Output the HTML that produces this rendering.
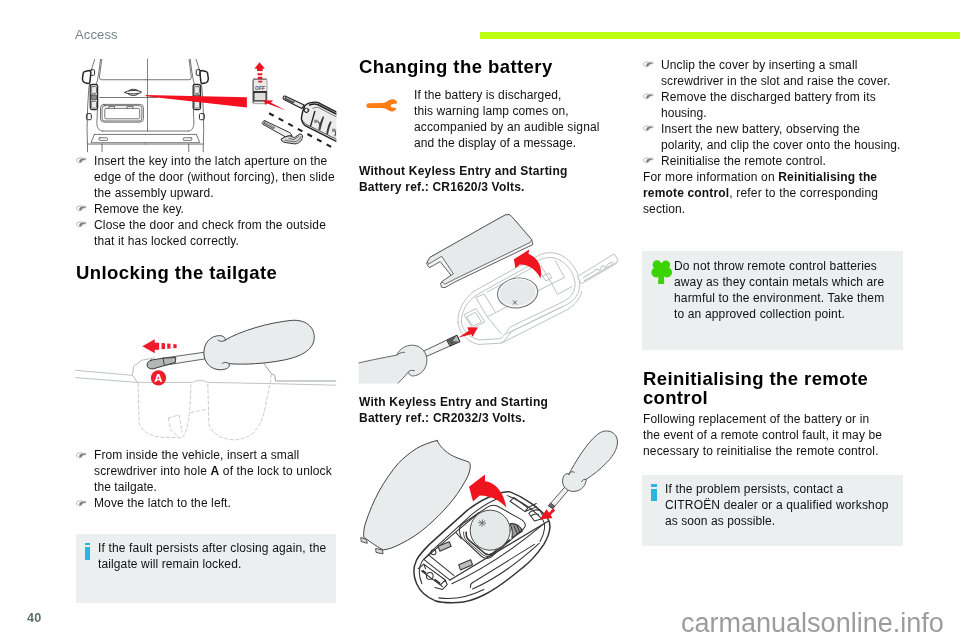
<!DOCTYPE html>
<html lang="en"><head><meta charset="utf-8"><title>Access - Changing the battery</title>
<style>
html,body{margin:0;padding:0;background:#fff}
body{width:960px;height:640px;position:relative;overflow:hidden;font-family:"Liberation Sans",sans-serif}
.t{position:absolute;white-space:pre;margin:0;padding:0;will-change:transform}
.t b{font-weight:700}
.box{position:absolute;background:#ecefef}
.bar{position:absolute;left:480px;top:32px;width:480px;height:6.6px;background:#bfff12}
svg{position:absolute;overflow:visible}
.ii{position:absolute;background:#2bb3e3}
</style></head><body>
<div class="bar"></div>
<div class="box" style="left:76px;top:533.8px;width:259.8px;height:68.8px"></div>
<div class="box" style="left:642.3px;top:251.2px;width:260.4px;height:98.7px"></div>
<div class="box" style="left:642.3px;top:475.1px;width:260.4px;height:71.1px"></div>

<div class="ii" style="left:84.5px;top:542.9px;width:5.5px;height:2.6px"></div>
<div class="ii" style="left:84.5px;top:547.4px;width:5.5px;height:12.5px"></div>
<div class="ii" style="left:651.3px;top:484.4px;width:5.5px;height:2.6px"></div>
<div class="ii" style="left:651.3px;top:488.9px;width:5.5px;height:12.5px"></div>
<svg style="left:0;top:0" width="960" height="640" viewBox="0 0 960 640">
<path fill="#fc7c15" d="M368.8 103.2 L381.5 103.1 C385.2 102.9 387.4 101.5 389.2 100.1 C391.5 98.6 395 98.8 396.6 101.2 C397.2 102.2 397.2 103.1 396.9 103.4 L392.6 104 C390.4 104.3 390.3 107.2 392.4 107.6 L396.2 107.9 C396.4 109.5 394 111.7 391.5 111.5 C389 111.3 387.4 109.4 385 108.5 L381.5 108.1 L368.8 108 C365.6 108 365.6 103.2 368.8 103.2 Z"/>
<g fill="#3bd303">
<circle cx="657" cy="264.7" r="4.35"/><circle cx="665.8" cy="264.8" r="4.35"/>
<circle cx="656.4" cy="272.4" r="5"/><circle cx="667" cy="272.4" r="5"/>
<rect x="656" y="263" width="11" height="12"/>
<path d="M658.5 274 L663.9 274 L664.2 284 L658.1 284 Z"/>
</g>
</svg>

<svg style="left:0;top:0" width="960" height="640" viewBox="0 0 960 640" fill="none" stroke-linecap="round" stroke-linejoin="round">
<!-- VAN: coords from crop (76,56) scale 6.529 -->
<g transform="translate(76,56) scale(0.15317)" stroke="#4a4a4a" stroke-width="0.75">
 <g id="vanhalf" style="vector-effect:non-scaling-stroke">
  <path vector-effect="non-scaling-stroke" d="M122 22 L100 92 M90 180 L84 205 L76 330 L72 480 L75 575 L75 625"/>
  <path vector-effect="non-scaling-stroke" d="M160 22 L150 100 L140 158 L133 186 M140 350 L136 440 C138 468 150 490 172 490"/>
  <path vector-effect="non-scaling-stroke" d="M168 22 L153 138 Q152 155 168 155 L453 155"/>
  <path vector-effect="non-scaling-stroke" d="M58 101 L86 95 Q97 96 97 110 L91 166 Q89 181 79 179 L57 174 Q43 168 42 148 L47 113 Q50 102 58 101 Z" stroke="#262626" stroke-width="1.5"/>
  <rect vector-effect="non-scaling-stroke" x="95" y="90" width="26" height="36" rx="5" stroke="#2e2e2e" stroke-width="1"/>
  <rect vector-effect="non-scaling-stroke" x="93" y="186" width="48" height="164" rx="12" stroke="#2a2a2a" stroke-width="1.3"/>
  <rect vector-effect="non-scaling-stroke" x="100" y="200" width="34" height="44" rx="5" fill="#e9e9e9"/>
  <rect vector-effect="non-scaling-stroke" x="98" y="254" width="38" height="32" rx="5" fill="#8a8a8a" stroke="#333"/>
  <rect vector-effect="non-scaling-stroke" x="100" y="296" width="34" height="44" rx="5" fill="#e9e9e9"/>
  <rect vector-effect="non-scaling-stroke" x="68" y="376" width="32" height="40" rx="7" stroke="#333" stroke-width="1"/>
  <path vector-effect="non-scaling-stroke" d="M120 512 L453 512 M120 512 L98 566 L453 566 M75 575 L453 575 M170 575 L170 625"/>
  <rect vector-effect="non-scaling-stroke" x="150" y="534" width="56" height="17" rx="5"/>
 </g>
 <use href="#vanhalf" transform="translate(906,0) scale(-1,1)"/>
 <path vector-effect="non-scaling-stroke" d="M172 490 L734 490"/>
 <path vector-effect="non-scaling-stroke" d="M467 20 L467 490" stroke="#555"/>
 <path vector-effect="non-scaling-stroke" d="M155 271 L530 271"/>
 <!-- handle -->
 <path vector-effect="non-scaling-stroke" d="M318 238 C330 222 410 220 428 236 C414 250 334 252 318 238 Z M340 246 C352 262 396 262 408 246 M345 226 C360 214 392 214 404 226" stroke="#333" stroke-width="1"/>
 <!-- plate -->
 <rect vector-effect="non-scaling-stroke" x="160" y="316" width="280" height="116" rx="22"/>
 <rect vector-effect="non-scaling-stroke" x="170" y="324" width="260" height="100" rx="18"/>
 <rect vector-effect="non-scaling-stroke" x="188" y="342" width="228" height="68" rx="8"/>
 <path vector-effect="non-scaling-stroke" d="M214 342 L214 330 L252 330 L252 342 M334 342 L334 330 L372 330 L372 342"/>
</g>
<!-- red wedge -->
<path d="M145.7 95.0 L246.9 97.2 L246.9 107.6 L146 96.2 Z" fill="#f5101f"/>
<!-- switch + arrows : crop (246,58) scale 11.43 -->
<g transform="translate(246,58) scale(0.08749)">
 <rect x="80" y="240" width="160" height="282" rx="14" fill="#ebebeb" stroke="#8a8a8a" stroke-width="0.8" vector-effect="non-scaling-stroke"/>
 <path d="M82 512 L82 252 Q82 242 94 242 L232 242" stroke="#555" stroke-width="0.9" fill="none" vector-effect="non-scaling-stroke"/>
 <rect x="90" y="388" width="140" height="102" fill="#dedede" stroke="#2e2e2e" stroke-width="1.2" vector-effect="non-scaling-stroke"/>
 <path d="M90 388 L230 388" stroke="#222" stroke-width="1.6" vector-effect="non-scaling-stroke"/>
 <text x="160" y="362" font-family="Liberation Sans, sans-serif" font-size="66" font-style="italic" font-weight="700" fill="#4a4a4a" text-anchor="middle" stroke="none" textLength="112" lengthAdjust="spacingAndGlyphs">OFF</text>
 <g fill="#f0101f">
  <path d="M155 48 L216 122 L190 122 L190 150 L126 150 L126 122 L96 122 Z"/>
  <path d="M130 174 L186 174 L186 196 L132 196 Z M134 214 L186 214 L186 240 L137 240 Z M140 260 L186 260 L186 281 L142 281 Z"/>
  <path d="M204 483 L312 487 L282 510 L456 601 L242 520 L222 537 Z"/>
 </g>
</g>
<!-- keys : crop (256,90) scale 10.32 -->
<clipPath id="c1"><rect x="240" y="50" width="96.4" height="101.5"/></clipPath>
<g clip-path="url(#c1)"><g transform="translate(256,90) scale(0.0969)">
 <path d="M135 240 L800 600" stroke="#222" stroke-width="2.1" stroke-dasharray="5.2 5.7" stroke-linecap="butt" vector-effect="non-scaling-stroke"/>
 <!-- fob blade -->
 <path d="M300 62 L497 156 L472 192 L288 98 C272 88 282 56 300 62 Z" fill="#e8e8e8" stroke="#222" stroke-width="1.1" vector-effect="non-scaling-stroke"/>
 <path d="M300 70 L400 118 L388 140 L292 92 Z" fill="#444"/>
 <path d="M318 84 L392 120" stroke="#ddd" stroke-width="0.8" stroke-dasharray="1 1" vector-effect="non-scaling-stroke"/>
 <!-- fob body (separate crop group inserted below) -->
 <!-- separate blade -->
 <path d="M92 318 L350 440 L372 470 L300 482 L68 352 C56 340 74 312 92 318 Z" fill="#ededed" stroke="#333" stroke-width="1" vector-effect="non-scaling-stroke"/>
 <path d="M84 326 L196 382 L184 404 L72 346 Z" fill="#666"/>
 <path d="M96 340 L186 388" stroke="#e5e5e5" stroke-width="0.8" stroke-dasharray="1 1" vector-effect="non-scaling-stroke"/>
 <path d="M262 506 C280 488 330 470 352 474 L398 492 L446 456 C470 448 486 466 480 488 C470 528 440 556 400 556 L300 542 C272 536 256 520 262 506 Z" fill="#d2d2d2" stroke="#333" stroke-width="1" vector-effect="non-scaling-stroke"/>
 <path d="M340 500 L392 512 L440 476 M300 520 L396 534 C430 534 452 510 462 482" stroke="#444" stroke-width="0.7" vector-effect="non-scaling-stroke"/>
</g>
<g transform="translate(296,94) scale(0.09054)">
 <path vector-effect="non-scaling-stroke" d="M95 135 C112 104 180 82 240 92 L520 236 L520 562 L100 348 C70 322 55 290 62 250 C68 215 78 170 95 135 Z" fill="#ececec" stroke="#1e1e1e" stroke-width="1.4"/>
 <path vector-effect="non-scaling-stroke" d="M150 122 C180 110 215 108 238 116 L520 260" stroke="#1e1e1e" stroke-width="1.5"/>
 <path vector-effect="non-scaling-stroke" d="M186 158 C205 148 232 144 250 150 L520 292" stroke="#444" stroke-width="0.7"/>
 <path vector-effect="non-scaling-stroke" d="M72 292 C82 315 98 328 118 338 L520 536" stroke="#333" stroke-width="0.8"/>
 <path vector-effect="non-scaling-stroke" d="M95 135 C80 160 84 200 112 206 C136 208 146 186 140 166" stroke="#222" stroke-width="0.9"/>
 <circle vector-effect="non-scaling-stroke" cx="115" cy="180" r="22" fill="#fff" stroke="#222" stroke-width="1"/>
 <path vector-effect="non-scaling-stroke" d="M208 192 L162 352" stroke="#222" stroke-width="1.4"/>
 <path d="M298 245 C270 290 258 340 250 395 L268 404 C282 350 294 300 312 254 Z" fill="#3c3c3c"/>
 <path d="M378 300 C352 340 342 390 334 440 L352 450 C364 400 376 352 394 310 Z" fill="#3c3c3c"/>
 <path vector-effect="non-scaling-stroke" d="M240 300 C262 320 266 350 254 378 M420 390 C440 410 440 440 430 462" stroke="#555" stroke-width="1.2"/>
 <rect x="200" y="284" width="36" height="34" fill="#8a8a8a"/>
 <rect x="398" y="384" width="40" height="34" fill="#8a8a8a"/>
</g>
</g>
</svg>

<svg style="left:0;top:0" width="960" height="640" viewBox="0 0 960 640" fill="none" stroke-linecap="round" stroke-linejoin="round">
<!-- lines: crop (70,300) scale 3.556 -->
<g transform="translate(70,300) scale(0.28121)">
 <path vector-effect="non-scaling-stroke" stroke="#b9bdbd" stroke-width="0.9" d="M20 250 L222 268 M20 276 L240 293 L436 293 C442 284 482 284 488 293 L700 297 L945 303"/>
 <path vector-effect="non-scaling-stroke" stroke="#b0b4b4" stroke-width="0.9" d="M240 293 L222 268 L226 236 L256 214 L300 206"/>
 <path vector-effect="non-scaling-stroke" stroke="#9da1a1" stroke-width="1" d="M690 226 L716 262 L728 268 L731 288 L945 288"/>
 <g stroke="#c3c6c6" stroke-width="0.9" stroke-dasharray="3.2 2.4">
  <path vector-effect="non-scaling-stroke" d="M242 296 L246 440 C256 470 290 486 330 488 L398 490 C420 470 428 400 430 300"/>
  <path vector-effect="non-scaling-stroke" d="M350 420 L388 408 L398 470 M350 420 L358 462 L385 486"/>
  <path vector-effect="non-scaling-stroke" d="M490 300 L494 440 C504 476 540 496 580 497 C640 498 676 460 690 400 L712 296 L716 262"/>
  <path vector-effect="non-scaling-stroke" d="M430 400 L488 388"/>
 </g>
</g>
<!-- screwdriver shaft/tip + arrow + A : crop (76,305) scale 4.571 -->
<g transform="translate(76,305) scale(0.21877)">
 <path vector-effect="non-scaling-stroke" d="M398 243 L600 214 L604 244 L402 276 Z" fill="#f4f5f5" stroke="#555" stroke-width="0.9"/>
 <path vector-effect="non-scaling-stroke" d="M450 237 L452 268" stroke="#555" stroke-width="0.8"/>
 <path vector-effect="non-scaling-stroke" d="M344 252 L398 243 L456 240 L454 262 L404 277 L352 292 C318 296 316 258 344 252 Z" fill="#b4b7b7" stroke="#3a3a3a" stroke-width="1"/>
 <path vector-effect="non-scaling-stroke" d="M398 243 L404 277" stroke="#3a3a3a" stroke-width="0.9"/>
 <g fill="#ee1c2a">
  <path d="M303 188 L360 156 L360 172 L380 172 L380 204 L360 204 L360 220 Z"/>
  <path d="M391 174 L407 175 L407 201 L391 202 Z M417 176 L432 177 L432 199 L417 200 Z M445 178 L460 180 L460 196 L445 198 Z"/>
  <circle cx="377" cy="333" r="35"/>
 </g>
 <text x="377" y="352" font-family="Liberation Sans, sans-serif" font-weight="700" font-size="52" fill="#fff" text-anchor="middle">A</text>
</g>
<!-- handle : crop (196,305) scale 4.571 -->
<g transform="translate(196,305) scale(0.21877)">
 <path vector-effect="non-scaling-stroke" fill="#e9ecec" stroke="#474747" stroke-width="1" d="M134 160 C200 120 330 80 440 70 C510 66 546 110 540 156 C534 206 480 236 400 252 C320 268 220 274 150 268 C160 282 140 296 112 296 C66 296 36 262 36 218 C36 174 66 140 108 140 C124 140 136 150 134 160 Z"/>
 <path vector-effect="non-scaling-stroke" stroke="#474747" stroke-width="1" d="M134 160 C126 168 108 168 100 160 M150 268 C140 260 126 260 120 268"/>
</g>
</svg>

<svg style="left:0;top:0" width="960" height="640" viewBox="0 0 960 640" fill="none" stroke-linecap="round" stroke-linejoin="round">
<!-- fob body light lines : crop (355,210) scale 3.556 -->
<g transform="translate(355,210) scale(0.28121)" stroke="#bcc3c3" stroke-width="1">
 <path vector-effect="non-scaling-stroke" fill="#fff" d="M366 400 C362 360 390 310 430 285 L655 160 C690 145 730 150 760 180 C795 215 808 260 792 298 C780 322 760 334 735 345 L560 430 C545 445 535 468 515 474 L440 478 C400 470 372 440 366 400 Z"/>
 <path vector-effect="non-scaling-stroke" d="M378 398 C376 362 400 322 436 300 L655 178 C690 162 722 168 748 192 C778 222 790 258 778 290 C768 310 750 322 728 332 L552 416 C540 432 530 452 512 458 L444 462 C408 456 382 430 378 398 Z"/>
 <path vector-effect="non-scaling-stroke" d="M520 474 L740 362 C775 345 800 320 806 290 M540 440 L720 352 L735 345"/>
 <!-- inner compartments -->
 <path vector-effect="non-scaling-stroke" d="M388 372 L430 350 L462 398 L420 420 Z M398 380 L428 364 L450 398 L420 412 Z M430 312 L470 380 L500 365 L460 300 Z M470 292 L640 200 L668 235 M500 365 L700 262 M470 380 L520 440 M660 196 L700 262 L745 240 L712 180 M668 235 L690 224 L700 242 L680 252 Z M700 262 L720 300 L772 272"/>
 <!-- blade -->
 <path vector-effect="non-scaling-stroke" fill="#fff" d="M792 236 L922 156 L934 176 L930 190 L806 262 Z"/>
 <path vector-effect="non-scaling-stroke" d="M812 240 L850 218 L858 210 L870 214 L880 198 L892 204 L902 190 L916 186 M815 252 L925 188" stroke="#b5bbbb"/>
</g>
<!-- battery -->
<g transform="rotate(-8 517.6 293)">
 <ellipse cx="517.6" cy="293" rx="20.2" ry="14.8" fill="#e6e9e9" stroke="#6f7474" stroke-width="1"/>
 <ellipse cx="517.6" cy="292.6" rx="18.8" ry="13.6" stroke="#fff" stroke-width="0.8"/>
</g>
<path d="M513.2 300.6 L516.6 304.4 M516.8 300.8 L513 304.2" stroke="#333" stroke-width="0.7"/>
<!-- cover plate (page coords) -->
<path d="M426.6 263.2 L430 257.3 L442.5 250.3 L495 220.6 L505.5 214.9 Q509.6 213.3 511.8 216.6 L531.8 239.8 L532.8 244.6 L455 281.9 L445 287.6 L441.4 287.2 L440.6 283.2 L451.1 275.3 L440.2 261.6 L429.7 267.5 Z" fill="#f3f5f5" stroke="#4c4c4c" stroke-width="0.9"/>
<path d="M427.7 261.3 L430 257.3 L442.5 250.3 L495 220.6 L505.5 214.9 Q509.6 213.3 511.8 216.6 L531.8 239.8 L530 242.5 L455 279 L445 284.2 L441.7 281.6 L453.4 273.8 L441.7 256.3 L428.6 264 Z" fill="#e7eaea" stroke="#4c4c4c" stroke-width="0.8"/>
<!-- red curved arrow : crop (455,205) scale 5.335 -->
<g transform="translate(455,205) scale(0.18744)" fill="#f0141f">
 <path d="M396 238 L314 290 L322 338 L346 318 C400 318 436 352 456 392 C470 330 440 278 392 262 Z"/>
</g>
<!-- screwdriver + arrow : crop (355,285) scale 5.647 -->
<clipPath id="c3"><rect x="358.6" y="300" width="200" height="83.4"/></clipPath>
<g clip-path="url(#c3)"><g transform="translate(355,285) scale(0.17709)">
 <path vector-effect="non-scaling-stroke" d="M386 374 L576 284 L592 320 L406 402 Z" fill="#f2f3f3" stroke="#4a4a4a" stroke-width="0.9"/>
 <path vector-effect="non-scaling-stroke" d="M520 310 L576 284 L592 320 L538 344 Z" fill="#b9bcbc" stroke="#2e2e2e" stroke-width="1"/>
 <path vector-effect="non-scaling-stroke" d="M522 312 L572 290 L550 318 L584 318 L540 342 Z" fill="#555" stroke="none"/>
 <path vector-effect="non-scaling-stroke" d="M-20 450 C60 430 160 410 236 396 C250 360 290 338 326 340 C376 342 408 384 406 428 C404 476 368 512 326 514 C316 514 306 506 300 492 C280 520 250 545 230 570 L-20 570 Z" fill="#e9ecec" stroke="#555" stroke-width="0.9"/>
 <path vector-effect="non-scaling-stroke" d="M236 396 C246 388 262 378 280 380 M300 492 C308 482 322 478 336 484" stroke="#555" stroke-width="0.9"/>
 <path d="M582 298 L642 258 L634 238 L694 240 L664 292 L656 278 Z" fill="#f0141f"/>
</g></g>
</svg>

<svg style="left:0;top:0" width="960" height="640" viewBox="0 0 960 640" fill="none" stroke-linecap="round" stroke-linejoin="round">
<!-- fob : crop (405,490) scale 5.331 -->
<g transform="translate(405,490) scale(0.18758)" stroke="#343434" stroke-width="1.05">
 <path vector-effect="non-scaling-stroke" fill="#fff" stroke-width="1.5" d="M560 10 C640 40 720 100 760 150 C780 180 775 230 740 290 C700 350 660 390 620 420 C560 470 480 530 420 560 C370 585 320 600 280 600 C230 602 190 600 160 590 C110 570 80 540 62 500 C42 455 44 410 62 372 C80 340 100 320 130 290 L330 110 C380 70 430 42 480 25 C510 14 540 6 560 10 Z"/>
 <path vector-effect="non-scaling-stroke" d="M545 30 C620 60 690 110 735 160 C750 180 748 225 720 275 M90 500 C70 450 72 410 92 378 L150 318 L350 135 C400 95 450 62 500 44"/>
 <path vector-effect="non-scaling-stroke" stroke-width="1.3" d="M240 480 L765 165"/>
 <path vector-effect="non-scaling-stroke" d="M250 500 C380 440 560 330 735 185"/>
 <path vector-effect="non-scaling-stroke" d="M350 520 C345 505 355 495 370 488 L690 290 M360 528 C470 480 600 390 715 285 M180 575 C260 585 340 570 420 530"/>
 <path vector-effect="non-scaling-stroke" d="M100 370 L270 225 L395 120 M100 370 L240 480 M130 350 L260 455 M270 225 L300 260"/>
 <!-- battery holder moved -->
 <path vector-effect="non-scaling-stroke" fill="#9a9a9a" d="M560 180 C590 175 620 195 625 220 L570 255 C575 225 570 200 560 180 Z"/>
 <path vector-effect="non-scaling-stroke" d="M580 190 L600 235 M595 185 L612 225"/>
 <!-- contacts -->
 <path vector-effect="non-scaling-stroke" fill="#bdbdbd" d="M176 300 L236 276 L246 300 L186 326 Z M286 398 L350 372 L360 398 L296 426 Z"/>
 <circle vector-effect="non-scaling-stroke" cx="152" cy="332" r="13"/>
 <!-- ring area -->
 <path vector-effect="non-scaling-stroke" d="M70 420 L100 395 L215 480 L190 505 M88 432 L200 515 M100 395 L110 420 M215 480 L225 505 L200 530 L160 520"/>
 <circle vector-effect="non-scaling-stroke" cx="132" cy="458" r="18"/>
 <path vector-effect="non-scaling-stroke" d="M95 430 L110 442 M160 478 L185 496" stroke-width="1.6"/>
 <!-- top latch -->
 <path vector-effect="non-scaling-stroke" d="M580 40 L655 95 L700 72 M580 40 L560 60 L640 115 L700 90 M655 95 L640 115 M660 125 C670 110 700 100 720 110 L740 150 L690 165 Z M672 140 C680 128 700 125 712 132"/>
</g>
<!-- battery -->
<g transform="translate(420,480) scale(0.20305)" stroke="#343434">
 <path vector-effect="non-scaling-stroke" stroke-width="1.05" d="M195 250 C190 235 200 222 215 212 L330 135 C345 125 365 122 380 128 L500 195 C520 208 525 225 510 240 L350 380 C335 390 320 388 305 378 L210 290 C198 280 195 265 195 250 Z"/>
 <path vector-effect="non-scaling-stroke" stroke-width="1.6" d="M228 258 C226 275 232 290 245 300 L320 362 C332 370 345 370 356 362 L440 296"/>
 <path vector-effect="non-scaling-stroke" stroke-width="0.9" d="M215 256 C212 272 220 292 234 304 L312 370 C328 380 344 378 356 370"/>
</g>
<circle cx="490.2" cy="530.2" r="20" fill="#e6e9e9" stroke="#4a4a4a" stroke-width="1"/>
<path d="M478.6 522.6 L485.6 523.2 M482.6 519.8 L481.8 526.4 M479.4 520.6 L484.8 525.4 M485 520.8 L479.4 525.4" stroke="#6a6a6a" stroke-width="0.9"/>
<!-- cover shell : crop (355,430) scale 4.571 -->
<g transform="translate(355,430) scale(0.21877)">
 <path vector-effect="non-scaling-stroke" d="M28 492 L52 500 L56 518 L30 510 Z M96 542 L126 548 L128 566 L98 560 Z" fill="#d6d9d9" stroke="#444" stroke-width="0.9"/>
 <path vector-effect="non-scaling-stroke" fill="#e9ecec" stroke="#444" stroke-width="1" d="M375 48 C385 70 410 100 450 120 C480 134 505 140 520 146 C535 160 525 200 500 240 C480 275 460 305 430 340 C400 375 365 410 330 440 C290 475 250 500 210 520 C180 536 150 546 130 548 C110 540 75 515 40 490 C38 470 42 440 50 420 C65 375 85 325 110 280 C135 235 165 190 200 150 C225 125 250 105 280 85 C310 68 345 55 375 48 Z"/>
</g>
<!-- arrows + screwdriver : crop (455,425) scale 5.335 -->
<g transform="translate(455,425) scale(0.18744)">
 <path d="M75 330 L160 264 L160 300 C215 305 262 360 274 442 C240 400 190 378 132 376 L96 408 Z" fill="#f0141f"/>
 <path vector-effect="non-scaling-stroke" d="M588 332 L606 346 L522 446 L500 432 Z" fill="#f2f3f3" stroke="#4a4a4a" stroke-width="0.9"/>
 <path vector-effect="non-scaling-stroke" d="M512 418 L532 432 L522 446 L500 432 Z" fill="#666" stroke="#333" stroke-width="0.7"/>
 <path vector-effect="non-scaling-stroke" fill="#e9ecec" stroke="#555" stroke-width="1" d="M608 262 C640 200 700 100 760 50 C800 18 850 30 864 70 C876 110 850 160 810 200 C775 236 735 268 700 290 C700 320 676 350 640 354 C600 358 572 330 574 298 C576 268 592 252 608 262 Z"/>
 <path vector-effect="non-scaling-stroke" stroke="#555" stroke-width="1" d="M608 262 C612 250 626 246 636 252 M700 290 C690 286 680 292 676 302"/>
 <path d="M524 444 L502 468 L488 450 L452 504 L520 496 L510 480 L534 456 Z" fill="#f0141f"/>
</g>
</svg>

<svg width="0" height="0" style="left:0;top:0"><defs><g id="hand"><path d="M0.5 3.1 C0.5 1.7 1.7 1.1 3.4 1.1 L5.2 0.7 L5.7 1.3 L9.6 1.3 C10.3 1.3 10.3 2.9 9.6 2.9 L6.6 2.9 C6.6 4.3 5.4 5.7 3.6 5.7 C1.8 5.7 0.5 4.6 0.5 3.1 Z" fill="#fff" stroke="#8e8e8e" stroke-width="0.6"/><path d="M3.9 2.5 L6.2 1.6 L9.6 1.7 L9.6 2.6 L6.4 3 C6.3 4.2 5.4 5.3 4 5.4 C3.1 5.1 3 4.3 3.4 3.5 Z" fill="#7a7a7a"/></g>
</defs></svg>
<svg style="left:76.2px;top:157.0px" width="11" height="7" viewBox="0 0 11 7"><use href="#hand"/></svg>
<svg style="left:76.2px;top:205.0px" width="11" height="7" viewBox="0 0 11 7"><use href="#hand"/></svg>
<svg style="left:76.2px;top:221.0px" width="11" height="7" viewBox="0 0 11 7"><use href="#hand"/></svg>
<svg style="left:76.2px;top:451.5px" width="11" height="7" viewBox="0 0 11 7"><use href="#hand"/></svg>
<svg style="left:76.2px;top:499.5px" width="11" height="7" viewBox="0 0 11 7"><use href="#hand"/></svg>
<svg style="left:642.8px;top:60.8px" width="11" height="7" viewBox="0 0 11 7"><use href="#hand"/></svg>
<svg style="left:642.8px;top:92.9px" width="11" height="7" viewBox="0 0 11 7"><use href="#hand"/></svg>
<svg style="left:642.8px;top:125.0px" width="11" height="7" viewBox="0 0 11 7"><use href="#hand"/></svg>
<svg style="left:642.8px;top:157.1px" width="11" height="7" viewBox="0 0 11 7"><use href="#hand"/></svg>
<div class="t" style="left:75.4px;top:26.97px;font-size:13.1px;line-height:16.38px;font-weight:400;color:#768686;letter-spacing:0.083px">Access</div>
<div class="t" style="left:26.9px;top:610.66px;font-size:12.6px;line-height:15.75px;font-weight:700;color:#5c6f6f;letter-spacing:0.192px">40</div>
<div class="t" style="left:680.6px;top:606.67px;font-size:27px;line-height:33.75px;font-weight:400;color:#9c9c9c;letter-spacing:0.006px">carmanualsonline.info</div>
<div class="t" style="left:93.9px;top:153.94px;font-size:12.0px;line-height:15.0px;font-weight:400;color:#111;letter-spacing:0.117px">Insert the key into the latch aperture on the</div>
<div class="t" style="left:93.6px;top:169.94px;font-size:12.0px;line-height:15.0px;font-weight:400;color:#111;letter-spacing:0.143px">edge of the door (without forcing), then slide</div>
<div class="t" style="left:93.6px;top:185.94px;font-size:12.0px;line-height:15.0px;font-weight:400;color:#111;letter-spacing:0.153px">the assembly upward.</div>
<div class="t" style="left:93.9px;top:201.94px;font-size:12.0px;line-height:15.0px;font-weight:400;color:#111;letter-spacing:0.056px">Remove the key.</div>
<div class="t" style="left:93.9px;top:217.94px;font-size:12.0px;line-height:15.0px;font-weight:400;color:#111;letter-spacing:0.159px">Close the door and check from the outside</div>
<div class="t" style="left:93.6px;top:233.94px;font-size:12.0px;line-height:15.0px;font-weight:400;color:#111;letter-spacing:0.135px">that it has locked correctly.</div>
<div class="t" style="left:76.2px;top:260.93px;font-size:18.5px;line-height:23.12px;font-weight:700;color:#000;letter-spacing:0.413px">Unlocking the tailgate</div>
<div class="t" style="left:93.9px;top:448.44px;font-size:12.0px;line-height:15.0px;font-weight:400;color:#111;letter-spacing:0.117px">From inside the vehicle, insert a small</div>
<div class="t" style="left:93.6px;top:464.44px;font-size:12.0px;line-height:15.0px;font-weight:400;color:#111;letter-spacing:0.143px">screwdriver into hole <b>A</b> of the lock to unlock</div>
<div class="t" style="left:93.6px;top:480.44px;font-size:12.0px;line-height:15.0px;font-weight:400;color:#111;letter-spacing:0.073px">the tailgate.</div>
<div class="t" style="left:93.9px;top:496.44px;font-size:12.0px;line-height:15.0px;font-weight:400;color:#111;letter-spacing:0.108px">Move the latch to the left.</div>
<div class="t" style="left:98.1px;top:540.84px;font-size:12.0px;line-height:15.0px;font-weight:400;color:#111;letter-spacing:0.151px">If the fault persists after closing again, the</div>
<div class="t" style="left:98.1px;top:556.84px;font-size:12.0px;line-height:15.0px;font-weight:400;color:#111;letter-spacing:0.119px">tailgate will remain locked.</div>
<div class="t" style="left:359.3px;top:55.13px;font-size:18.5px;line-height:23.12px;font-weight:700;color:#000;letter-spacing:0.434px">Changing the battery</div>
<div class="t" style="left:414.1px;top:87.54px;font-size:12.0px;line-height:15.0px;font-weight:400;color:#111;letter-spacing:0.115px">If the battery is discharged,</div>
<div class="t" style="left:414.1px;top:103.54px;font-size:12.0px;line-height:15.0px;font-weight:400;color:#111;letter-spacing:0.097px">this warning lamp comes on,</div>
<div class="t" style="left:414.1px;top:119.54px;font-size:12.0px;line-height:15.0px;font-weight:400;color:#111;letter-spacing:0.15px">accompanied by an audible signal</div>
<div class="t" style="left:414.1px;top:135.54px;font-size:12.0px;line-height:15.0px;font-weight:400;color:#111;letter-spacing:0.099px">and the display of a message.</div>
<div class="t" style="left:359.3px;top:163.94px;font-size:12px;line-height:15.0px;font-weight:700;color:#111;letter-spacing:0.235px">Without Keyless Entry and Starting</div>
<div class="t" style="left:359.3px;top:179.94px;font-size:12px;line-height:15.0px;font-weight:700;color:#111;letter-spacing:0.198px">Battery ref.: CR1620/3 Volts.</div>
<div class="t" style="left:359.3px;top:395.44px;font-size:12px;line-height:15.0px;font-weight:700;color:#111;letter-spacing:0.228px">With Keyless Entry and Starting</div>
<div class="t" style="left:359.3px;top:411.44px;font-size:12px;line-height:15.0px;font-weight:700;color:#111;letter-spacing:0.23px">Battery ref.: CR2032/3 Volts.</div>
<div class="t" style="left:661.2px;top:57.74px;font-size:12.0px;line-height:15.0px;font-weight:400;color:#111;letter-spacing:0.119px">Unclip the cover by inserting a small</div>
<div class="t" style="left:660.9px;top:73.74px;font-size:12.0px;line-height:15.0px;font-weight:400;color:#111;letter-spacing:0.12px">screwdriver in the slot and raise the cover.</div>
<div class="t" style="left:661.2px;top:89.84px;font-size:12.0px;line-height:15.0px;font-weight:400;color:#111;letter-spacing:0.141px">Remove the discharged battery from its</div>
<div class="t" style="left:661.2px;top:105.84px;font-size:12.0px;line-height:15.0px;font-weight:400;color:#111;letter-spacing:0.016px">housing.</div>
<div class="t" style="left:661.4px;top:121.94px;font-size:12.0px;line-height:15.0px;font-weight:400;color:#111;letter-spacing:0.159px">Insert the new battery, observing the</div>
<div class="t" style="left:661.2px;top:137.94px;font-size:12.0px;line-height:15.0px;font-weight:400;color:#111;letter-spacing:0.121px">polarity, and clip the cover onto the housing.</div>
<div class="t" style="left:661.2px;top:154.04px;font-size:12.0px;line-height:15.0px;font-weight:400;color:#111;letter-spacing:0.112px">Reinitialise the remote control.</div>
<div class="t" style="left:642.6px;top:170.24px;font-size:12.0px;line-height:15.0px;font-weight:400;color:#111;letter-spacing:0.162px">For more information on <b>Reinitialising the</b></div>
<div class="t" style="left:642.6px;top:186.34px;font-size:12.0px;line-height:15.0px;font-weight:400;color:#111;letter-spacing:0.166px"><b>remote control</b>, refer to the corresponding</div>
<div class="t" style="left:642.6px;top:202.44px;font-size:12.0px;line-height:15.0px;font-weight:400;color:#111;letter-spacing:0.105px">section.</div>
<div class="t" style="left:674.4px;top:259.04px;font-size:12.0px;line-height:15.0px;font-weight:400;color:#111;letter-spacing:0.15px">Do not throw remote control batteries</div>
<div class="t" style="left:674.4px;top:275.04px;font-size:12.0px;line-height:15.0px;font-weight:400;color:#111;letter-spacing:0.131px">away as they contain metals which are</div>
<div class="t" style="left:674.4px;top:291.04px;font-size:12.0px;line-height:15.0px;font-weight:400;color:#111;letter-spacing:0.155px">harmful to the environment. Take them</div>
<div class="t" style="left:674.4px;top:307.04px;font-size:12.0px;line-height:15.0px;font-weight:400;color:#111;letter-spacing:0.149px">to an approved collection point.</div>
<div class="t" style="left:642.6px;top:366.83px;font-size:18.5px;line-height:23.12px;font-weight:700;color:#000;letter-spacing:0.414px">Reinitialising the remote</div>
<div class="t" style="left:642.6px;top:385.93px;font-size:18.5px;line-height:23.12px;font-weight:700;color:#000;letter-spacing:0.328px">control</div>
<div class="t" style="left:642.6px;top:411.84px;font-size:12.0px;line-height:15.0px;font-weight:400;color:#111;letter-spacing:0.149px">Following replacement of the battery or in</div>
<div class="t" style="left:642.6px;top:428.04px;font-size:12.0px;line-height:15.0px;font-weight:400;color:#111;letter-spacing:0.106px">the event of a remote control fault, it may be</div>
<div class="t" style="left:642.6px;top:444.24px;font-size:12.0px;line-height:15.0px;font-weight:400;color:#111;letter-spacing:0.169px">necessary to reinitialise the remote control.</div>
<div class="t" style="left:665.4px;top:482.14px;font-size:12.0px;line-height:15.0px;font-weight:400;color:#111;letter-spacing:0.143px">If the problem persists, contact a</div>
<div class="t" style="left:665.4px;top:498.24px;font-size:12.0px;line-height:15.0px;font-weight:400;color:#111;letter-spacing:0.162px">CITROËN dealer or a qualified workshop</div>
<div class="t" style="left:665.4px;top:514.24px;font-size:12.0px;line-height:15.0px;font-weight:400;color:#111;letter-spacing:0.073px">as soon as possible.</div>
</body></html>
